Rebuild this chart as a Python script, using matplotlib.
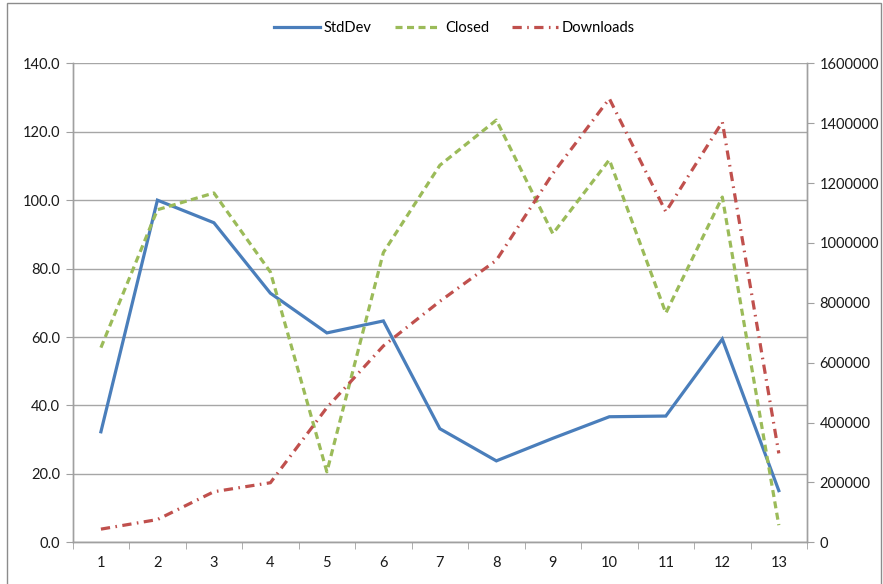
import matplotlib
matplotlib.use("Agg")
import matplotlib.pyplot as plt
from matplotlib.ticker import FuncFormatter, FixedLocator
from matplotlib.patches import Rectangle
import numpy as np

categories = [str(i) for i in range(1, 14)]
stddev = [32.3, 100.0, 93.4, 72.8, 61.2, 64.7, 33.2, 23.8, 30.4, 36.7, 36.9, 59.4, 15.1]
closed = [56.9, 97.2, 102.1, 79.0, 20.6, 84.7, 110.2, 123.4, 90.2, 111.8, 67.0, 100.9, 5.0]
downloads = [44000, 76000, 169000, 199000, 450000, 656000, 805000, 942000,
             1232000, 1482000, 1104000, 1404000, 297000]

plt.rcParams['font.family'] = ['Lato', 'DejaVu Sans']

W, H = 883, 584
fig = plt.figure(figsize=(W / 100, H / 100), dpi=100)

# outer chart border
fig.patches.append(Rectangle((7 / W, -0.05), (881 - 7) / W, 1.05 - 3 / H,
                             transform=fig.transFigure, fill=False,
                             edgecolor='#8C8C8C', lw=1.0))

ax = fig.add_axes([0.0823, 0.0714, 0.914 - 0.0823, 0.8916 - 0.0714])
ax2 = ax.twinx()

x = np.arange(len(categories))
blue = '#4A7EBB'
green = '#9BBB59'
red = '#C0504D'

l1, = ax.plot(x, stddev, color=blue, lw=2.3, label='StdDev', solid_joinstyle='miter')
l2, = ax.plot(x, closed, color=green, lw=2.3, label='Closed', dashes=(2.2, 1.4))
l3, = ax2.plot(x, downloads, color=red, lw=2.3, label='Downloads', dashes=(2.9, 1.7, 0.5, 1.7))

ax.set_xlim(-0.5, len(categories) - 0.5)
ax.set_ylim(0, 140)
ax2.set_ylim(0, 1600000)

ax.set_yticks(np.arange(0, 141, 20))
ax.yaxis.set_major_formatter(FuncFormatter(lambda v, p: f"{v:.1f}"))
ax2.set_yticks(np.arange(0, 1600001, 200000))
ax2.yaxis.set_major_formatter(FuncFormatter(lambda v, p: f"{int(v)}"))

fs = 10.5
ax.set_xticks(x)
ax.set_xticklabels(categories)
ax.xaxis.set_minor_locator(FixedLocator(np.arange(-0.5, len(categories), 1.0)))
ax.tick_params(axis='x', which='major', length=0, pad=10, labelsize=fs, colors='#1a1a1a')
ax.tick_params(axis='x', which='minor', length=5, color='#A0A0A0', direction='out')
ax.tick_params(axis='y', length=5, color='#A0A0A0', labelsize=fs, labelcolor='#1a1a1a', pad=4)
ax2.tick_params(axis='y', length=5, color='#A0A0A0', labelsize=fs, labelcolor='#1a1a1a', pad=4)

ax.grid(axis='y', color='#A6A6A6', lw=1.0)
ax.set_axisbelow(True)

for a in (ax, ax2):
    a.spines['top'].set_visible(False)
    for s in ('left', 'right', 'bottom'):
        a.spines[s].set_color('#A0A0A0')
        a.spines[s].set_linewidth(1.0)

fig.legend(handles=[l1, l2, l3], loc='center', bbox_to_anchor=(0.515, 0.952),
           ncol=3, frameon=False, fontsize=fs, handlelength=3.1, columnspacing=1.6,
           handletextpad=0.3)

fig.savefig('out.png', dpi=100)
